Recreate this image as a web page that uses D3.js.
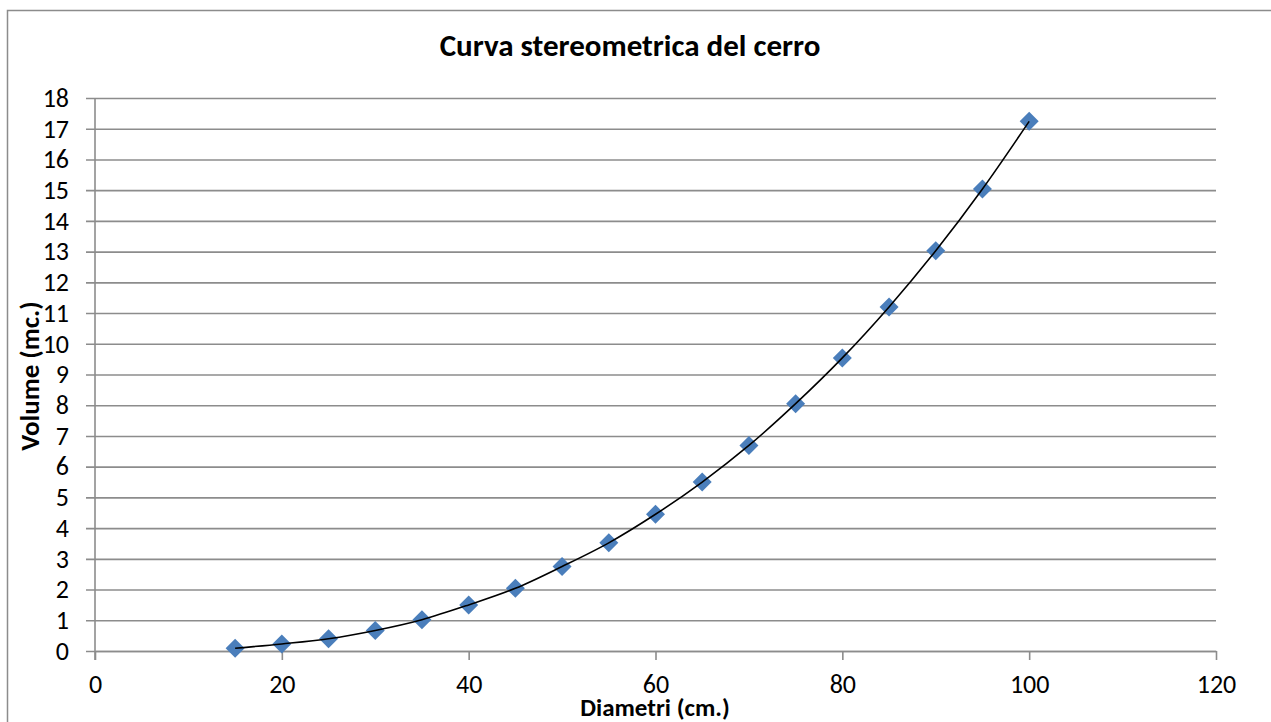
<!DOCTYPE html>
<html>
<head>
<meta charset="utf-8">
<script src="https://cdn.jsdelivr.net/npm/d3@7"></script>
<style>
  html, body { margin: 0; padding: 0; background: #fff; }
  svg { display: block; font-family: Carlito, Calibri, Lato, "Open Sans", sans-serif; }
</style>
</head>
<body>
<svg id="chart" width="1271" height="722"></svg>
<script>
// Diameter (cm) and stereometric volume (m³) of the Turkey oak
const diametri = [15, 20, 25, 30, 35, 40, 45, 50, 55, 60, 65, 70, 75, 80, 85, 90, 95, 100];
const volumi   = [0.09, 0.23, 0.40, 0.67, 1.02, 1.50, 2.04, 2.75, 3.52, 4.45, 5.50, 6.69, 8.05, 9.54, 11.20, 13.03, 15.04, 17.24];
const xTicks = [0, 20, 40, 60, 80, 100, 120];
const yTicks = d3.range(0, 19);

const titolo = "Curva stereometrica del cerro";
const xTitolo = "Diametri (cm.)";
const yTitolo = "Volume (mc.)";

const FONT = "Carlito, Calibri, Lato, 'Open Sans', sans-serif";
const svg = d3.select("#chart");
const W = 1271, H = 722;
const plot = { left: 95, right: 1216, top: 98, bottom: 651 };

const x = d3.scaleLinear().domain([0, 120]).range([plot.left, plot.right]);
const y = d3.scaleLinear().domain([0, 18]).range([plot.bottom, plot.top]);

const grey = "#8c8c8c";

// chart frame
svg.append("rect")
  .attr("x", 7.5).attr("y", 10.5)
  .attr("width", W + 10).attr("height", H + 10)
  .attr("fill", "#fff").attr("stroke", grey).attr("stroke-width", 1.5);

// horizontal gridlines with ticks on the left
const yAxis = d3.axisLeft(y).tickValues(yTicks).tickSize(-(plot.right - plot.left)).tickPadding(26);
const gy = svg.append("g").attr("transform", `translate(${plot.left},0)`).call(yAxis);
gy.select(".domain").remove();
gy.selectAll(".tick line")
  .attr("x1", -9)
  .attr("stroke", grey).attr("stroke-width", 1.6);
gy.selectAll(".tick text")
  .attr("font-size", 26).attr("fill", "#000")
  .attr("font-family", FONT);

// vertical axis line
svg.append("line")
  .attr("x1", plot.left).attr("x2", plot.left)
  .attr("y1", plot.top).attr("y2", plot.bottom + 9)
  .attr("stroke", grey).attr("stroke-width", 1.6);

// horizontal axis
const xAxis = d3.axisBottom(x).tickValues(xTicks).tickSize(9).tickSizeOuter(0);
const gx = svg.append("g").attr("transform", `translate(0,${plot.bottom})`).call(xAxis);
gx.select(".domain").attr("stroke", grey).attr("stroke-width", 1.6);
gx.selectAll(".tick line").attr("stroke", grey).attr("stroke-width", 1.6);
gx.selectAll(".tick text")
  .attr("y", 42).attr("dy", null)
  .attr("font-size", 26).attr("fill", "#000")
  .attr("font-family", FONT);

// data points (diamonds)
const pts = diametri.map((d, i) => [d, volumi[i]]);
const diamond = d3.symbol().type(d3.symbolDiamond2).size(230);
svg.append("g").selectAll("path")
  .data(pts).join("path")
  .attr("d", diamond)
  .attr("transform", d => `translate(${x(d[0])},${y(d[1])})`)
  .attr("fill", "#4a7ebb");

// smoothed curve through the points
const line = d3.line().x(d => x(d[0])).y(d => y(d[1])).curve(d3.curveCatmullRom);
svg.append("path")
  .datum(pts)
  .attr("d", line)
  .attr("fill", "none").attr("stroke", "#000").attr("stroke-width", 1.6);

// titles
svg.append("text")
  .attr("x", 630).attr("y", 56)
  .attr("text-anchor", "middle")
  .attr("font-size", 31).attr("font-weight", "bold")
  .text(titolo);

svg.append("text")
  .attr("x", 655).attr("y", 716)
  .attr("text-anchor", "middle")
  .attr("font-size", 25).attr("font-weight", "bold")
  .text(xTitolo);

svg.append("text")
  .attr("transform", "translate(39,376) rotate(-90)")
  .attr("text-anchor", "middle")
  .attr("font-size", 27).attr("font-weight", "bold")
  .text(yTitolo);
</script>
</body>
</html>
